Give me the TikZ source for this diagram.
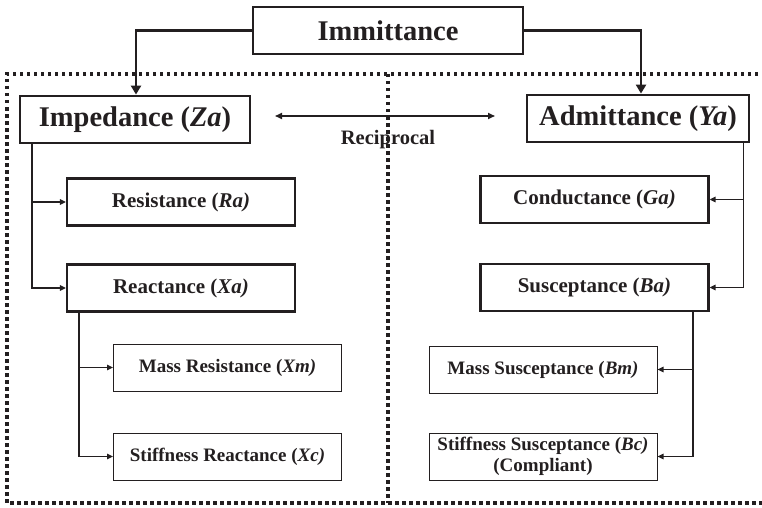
\documentclass[tikz,border=0pt]{standalone}
\usepackage{fontspec}
\setmainfont{Liberation Serif}
\usetikzlibrary{arrows.meta}
\definecolor{ink}{HTML}{231F20}
\tikzset{
  big/.style={draw=ink, line width=2.8pt, text=ink, font=\fontsize{28.5}{32}\selectfont\bfseries, inner sep=0pt, minimum height=47pt},
  mid/.style={draw=ink, line width=2.2pt, text=ink, font=\fontsize{21}{24}\selectfont\bfseries, inner sep=0pt, minimum width=228pt, minimum height=47pt},
  small/.style={draw=ink, line width=1pt, text=ink, font=\fontsize{19}{21}\selectfont\bfseries, inner sep=0pt, minimum width=228pt, minimum height=47pt, align=center},
  thickarrow/.style={draw=ink, line width=2.8pt, -{Triangle[length=9pt,width=10pt]}},
  conn/.style={draw=ink, line width=1.8pt, -{Triangle[length=6pt,width=5.5pt]}},
  dotline/.style={draw=ink, line width=3.2pt, dash pattern=on 3.5pt off 3.5pt}
}
\begin{document}
\begin{tikzpicture}[x=1pt,y=-1pt]
\useasboundingbox (0,0) rectangle (762,508);
% dotted frame
\draw[dotline] (765,74) -- (7,74) -- (7,503) -- (765,503);
\draw[dotline] (388,74) -- (388,503);
% nodes
\node[big, minimum width=270pt] (imm) at (388,30.5) {Immittance};
\node[big, minimum width=230pt] (imp) at (135,119.5) {Impedance (\textit{Za})};
\node[big, minimum width=222pt] (adm) at (638,118.5) {Admittance (\textit{Ya})};
\node[mid] (res) at (181,202) {Resistance (\textit{Ra)}};
\node[mid] (rea) at (181,288) {Reactance (\textit{Xa)}};
\node[small] (mr) at (227.5,367.5) {Mass Resistance (\textit{Xm)}};
\node[small] (sr) at (227.5,456.5) {Stiffness Reactance (\textit{Xc)}};
\node[mid] (con) at (594.5,199.5) {Conductance (\textit{Ga)}};
\node[mid] (sus) at (594.5,287.5) {Susceptance (\textit{Ba)}};
\node[small] (ms) at (543,369.5) {Mass Susceptance (\textit{Bm)}};
\node[small] (ss) at (543,456.5) {Stiffness Susceptance (\textit{Bc)}\\(Compliant)};
\node[text=ink, font=\fontsize{20.5}{24}\selectfont\bfseries, inner sep=0pt] (rec) at (388,140) {Reciprocal};
% top connectors
\draw[thickarrow] (imm.west) -| ([xshift=1pt]imp.north);
\draw[thickarrow] (imm.east) -| ([xshift=3pt]adm.north);
% reciprocal arrow
\coordinate (rl) at (275,116);
\coordinate (rr) at (495,116);
\draw[draw=ink, line width=1.6pt, {Triangle[length=7pt,width=6pt]}-{Triangle[length=7pt,width=6pt]}] (rl) -- (rr);
% left buses
\draw[conn] ([xshift=13pt]imp.south west) |- (res.west);
\draw[conn] ([xshift=13pt]imp.south west) |- (rea.west);
\draw[conn] ([xshift=13pt]rea.south west) |- (mr.west);
\draw[conn] ([xshift=13pt]rea.south west) |- (sr.west);
% right buses
\draw[conn] ([xshift=-7pt]adm.south east) |- (con.east);
\draw[conn] ([xshift=-7pt]adm.south east) |- (sus.east);
\draw[conn] ([xshift=-17pt]sus.south east) |- (ms.east);
\draw[conn] ([xshift=-17pt]sus.south east) |- (ss.east);
\end{tikzpicture}
\end{document}
